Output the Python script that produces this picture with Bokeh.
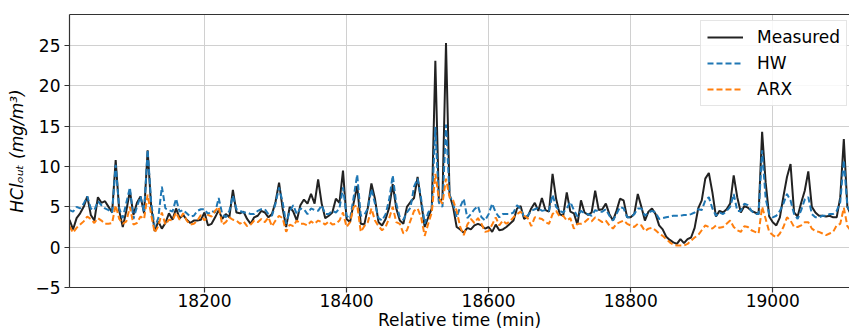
from bokeh.plotting import figure
from bokeh.models import Range1d, FixedTicker, LinearAxis, Legend, LegendItem
from bokeh.embed import file_html
from bokeh.resources import INLINE

# Time axis (minutes), one sample every 5 minutes
t_start = 18010
t_step = 5

measured = [
    3.4, 2.2, 3.6, 4.2, 5.0, 6.3, 4.0, 3.3, 6.2, 5.5, 5.7, 5.0, 4.3, 10.8, 4.5, 2.5, 4.5, 7.0, 4.0, 5.5,
    6.3, 4.2, 12.0, 5.0, 2.0, 3.2, 2.3, 3.0, 4.2, 3.4, 4.8, 3.6, 4.0, 3.4, 3.0, 3.3,
    3.3, 3.4, 4.3, 2.7, 2.9, 3.7, 4.6, 3.5, 4.1, 3.7, 7.1, 4.3, 4.2, 4.4, 3.5, 2.9, 3.7, 3.9, 4.5, 4.3,
    3.7, 4.1, 5.6, 8.0, 4.8, 2.5, 5.0, 4.4, 3.3, 5.2, 5.9, 5.4, 6.6, 5.4, 8.4, 5.4, 3.6,
    3.9, 4.3, 6.0, 5.5, 9.5, 3.5, 3.1, 5.5, 7.6, 2.9, 2.8, 4.9, 7.9, 6.0, 3.1, 2.7, 3.5, 4.9, 7.8, 4.8,
    3.3, 2.9, 5.0, 5.6, 6.1, 8.7, 5.6, 2.5, 3.7, 4.8, 23.1, 5.6, 6.0, 25.3, 6.5, 5.0,
    2.5, 2.2, 1.8, 2.4, 2.2, 2.7, 2.9, 2.7, 2.3, 2.5, 1.9, 2.8, 2.1, 2.2, 2.5, 2.9, 3.3, 4.8, 5.1, 3.5,
    3.8, 4.8, 5.5, 4.5, 6.1, 4.6, 4.4, 9.1, 6.0, 4.1, 3.9, 6.8, 4.4, 4.2, 2.8, 5.8, 4.3,
    4.0, 4.3, 7.0, 4.6, 4.7, 5.4, 4.1, 3.3, 4.5, 6.0, 5.8, 3.7, 3.7, 4.1, 6.6, 5.0, 3.3, 4.4, 4.8, 4.1,
    2.7, 2.2, 1.3, 0.9, 0.6, 0.4, 1.0, 0.5, 1.0, 1.2, 2.4, 4.8, 5.8, 8.5, 9.2, 6.8, 3.8,
    4.5, 4.3, 4.7, 5.4, 8.9, 6.2, 4.3, 5.1, 4.9, 4.5, 4.3, 4.1, 14.3, 8.0, 3.8, 3.1, 2.7, 3.7, 6.3, 8.7,
    10.3, 4.3, 3.8, 5.5, 7.0, 9.4, 5.0, 4.3, 3.9, 3.9, 3.8, 3.9, 3.7, 3.7, 6.2, 13.4, 5.0, 4.0,
]

hw = [
    4.6, 4.4, 5.0, 4.8, 5.4, 6.3, 4.8, 4.6, 5.7, 5.2, 4.8, 4.6, 4.3, 10.2, 4.8, 3.6, 5.5, 7.4, 3.5, 5.0,
    6.3, 4.3, 12.1, 5.5, 2.5, 3.6, 7.5, 4.8, 4.6, 4.4, 6.0, 4.4, 4.6, 4.2, 3.8, 3.9,
    4.5, 4.7, 4.7, 4.1, 4.5, 4.3, 6.1, 4.1, 3.7, 4.5, 6.4, 4.7, 4.5, 4.3, 4.3, 4.1, 4.1, 4.5, 4.7, 4.7,
    4.1, 3.9, 5.4, 7.4, 5.6, 2.9, 4.5, 5.2, 4.1, 4.8, 4.7, 4.1, 4.8, 4.6, 4.5, 5.2, 4.1,
    4.1, 4.5, 4.3, 4.8, 7.4, 3.9, 3.5, 6.2, 9.0, 3.9, 4.0, 4.8, 7.2, 5.4, 3.6, 3.3, 4.1, 5.9, 8.9, 5.4,
    3.7, 3.4, 4.3, 4.9, 7.5, 8.5, 6.0, 2.9, 4.3, 4.8, 14.9, 5.5, 5.0, 15.2, 6.5, 5.4,
    3.7, 5.0, 6.0, 3.6, 4.1, 4.7, 5.1, 3.7, 3.3, 4.1, 5.4, 4.3, 3.7, 4.1, 4.1, 4.1, 4.3, 5.2, 4.8, 3.7,
    3.9, 4.5, 4.7, 4.9, 4.5, 4.6, 4.5, 6.5, 5.0, 4.5, 4.3, 4.8, 5.6, 4.6, 3.8, 4.5, 4.2,
    4.1, 3.9, 4.6, 4.4, 4.4, 4.7, 3.9, 3.3, 4.1, 5.0, 4.8, 3.7, 3.7, 4.1, 4.8, 4.8, 3.9, 4.3, 4.5, 4.3,
    3.5, 3.6, 3.7, 3.8, 3.9, 3.9, 3.9, 4.0, 4.0, 4.1, 4.3, 4.7, 4.6, 5.8, 6.2, 4.8, 3.9,
    4.3, 4.1, 4.5, 5.0, 6.6, 4.5, 4.5, 5.4, 5.2, 4.5, 4.1, 4.1, 12.0, 6.0, 4.1, 3.7, 3.9, 4.5, 5.4, 6.6,
    5.8, 4.1, 3.5, 4.6, 5.9, 6.2, 4.1, 3.7, 3.7, 3.9, 3.9, 4.1, 4.1, 4.5, 5.6, 10.8, 5.0, 4.4,
]

arx = [
    2.6, 1.8, 2.4, 2.8, 3.2, 3.8, 3.5, 3.0, 3.6, 3.3, 2.9, 2.9, 3.0, 5.2, 3.5, 2.9, 3.2, 5.0, 2.8, 3.0,
    3.8, 3.5, 6.5, 4.0, 1.8, 2.6, 4.3, 2.8, 3.4, 3.3, 4.3, 3.4, 4.2, 3.3, 2.8, 2.9,
    3.3, 4.0, 3.3, 4.0, 3.8, 4.5, 5.0, 2.8, 3.1, 3.7, 3.4, 3.3, 2.9, 3.2, 2.6, 2.8, 3.3, 3.1, 3.5, 3.1,
    3.7, 2.6, 3.3, 3.9, 3.6, 1.9, 2.8, 2.6, 3.3, 2.9, 2.9, 2.7, 3.2, 2.9, 3.3, 3.1, 2.8,
    3.2, 2.8, 2.9, 3.3, 4.3, 2.5, 3.1, 5.0, 5.2, 1.9, 2.6, 3.1, 4.8, 3.3, 2.6, 2.1, 2.5, 3.6, 5.0, 3.1,
    2.9, 1.7, 2.1, 3.3, 4.5, 4.8, 3.7, 1.4, 2.9, 4.3, 9.1, 6.0, 5.4, 8.5, 6.2, 5.8,
    4.5, 2.5, 1.5, 2.8, 3.5, 3.0, 3.6, 2.9, 1.9, 2.0, 2.8, 3.7, 2.7, 3.3, 2.9, 3.2, 3.7, 4.1, 4.4, 3.9,
    3.6, 2.6, 3.7, 3.6, 3.5, 3.1, 2.9, 4.1, 4.5, 3.8, 3.9, 3.3, 3.6, 2.3, 2.9, 2.9, 3.1,
    3.5, 3.2, 3.7, 3.4, 3.1, 3.3, 2.7, 2.3, 2.9, 3.1, 3.3, 2.9, 2.7, 2.5, 2.9, 2.7, 2.0, 2.3, 2.4, 2.1,
    1.7, 1.4, 1.0, 0.6, 0.3, 0.2, 0.2, 0.2, 0.4, 0.8, 1.2, 1.5, 2.1, 2.7, 2.5, 2.3, 2.7,
    2.4, 2.5, 2.9, 3.3, 2.5, 2.1, 1.9, 2.6, 2.5, 2.1, 1.9, 1.7, 5.0, 3.5, 1.9, 1.5, 1.2, 1.7, 2.5, 3.7,
    3.3, 2.5, 2.5, 2.7, 3.1, 3.1, 2.3, 2.0, 1.9, 1.7, 1.5, 1.7, 1.9, 2.7, 2.9, 4.9, 2.6, 2.0,
]

x_ticks = [18200, 18400, 18600, 18800, 19000]
y_ticks = [-5, 0, 5, 10, 15, 20, 25]
series_names = ["Measured", "HW", "ARX"]

time = [t_start + t_step * i for i in range(len(measured))]

FONT = "DejaVu Sans"
SPINE = "#333333"

p = figure(width=849, height=333, output_backend="svg", toolbar_location=None,
           x_range=Range1d(18010, 19108), y_range=Range1d(-5, 28.85),
           min_border_left=69, min_border_right=0, min_border_top=14, min_border_bottom=46)
p.outline_line_color = None
p.background_fill_color = "white"

xax = p.below[0]
yax = p.left[0]

for ax in (xax, yax):
    ax.axis_line_color = SPINE
    ax.axis_line_width = 1.2
    ax.major_tick_line_color = SPINE
    ax.major_tick_line_width = 1.2
    ax.major_tick_out = 5
    ax.major_tick_in = 0
    ax.minor_tick_line_color = None
    ax.major_label_text_font = FONT
    ax.major_label_text_font_size = "17px"
    ax.major_label_text_color = "black"
    ax.axis_label_text_font = FONT
    ax.axis_label_text_font_size = "17px"
    ax.axis_label_text_color = "black"

xax.ticker = FixedTicker(ticks=x_ticks)
yax.ticker = FixedTicker(ticks=y_ticks)
yax.major_label_overrides = {-5: "\u22125"}
xax.major_label_standoff = 1
yax.major_label_standoff = 4
xax.axis_label = "Relative time (min)"
xax.axis_label_text_font_style = "normal"
xax.axis_label_standoff = 0
yax.axis_label = "HCl\u2092\u1d64\u209c (mg/m\u00b3)"
yax.axis_label_text_font_style = "italic"
yax.axis_label_standoff = 5

# top spine only (no ticks, no labels)
top = LinearAxis(ticker=FixedTicker(ticks=[]), major_label_text_font_size="0px",
                 major_tick_out=0, major_tick_in=0, minor_tick_out=0, minor_tick_in=0,
                 major_label_standoff=0, axis_line_color=SPINE, axis_line_width=1.2)
p.add_layout(top, "above")

p.xgrid.ticker = FixedTicker(ticks=x_ticks)
p.ygrid.ticker = FixedTicker(ticks=y_ticks)
for g in (p.xgrid[0], p.ygrid[0]):
    g.grid_line_color = "#d0d0d0"
    g.grid_line_width = 1

r1 = p.line(time, measured, line_color="#222222", line_width=2)
r2 = p.line(time, hw, line_color="#1f77b4", line_width=2, line_dash="6 3")
r3 = p.line(time, arx, line_color="#ff7f0e", line_width=2, line_dash="6 3")

legend = Legend(items=[LegendItem(label=series_names[0], renderers=[r1]),
                       LegendItem(label=series_names[1], renderers=[r2]),
                       LegendItem(label=series_names[2], renderers=[r3])],
                location=(631, 181), margin=0, padding=6, spacing=6,
                glyph_width=36, glyph_height=20, label_height=20, label_standoff=14,
                label_text_font=FONT, label_text_font_size="17px", label_text_color="black",
                border_line_color="#cccccc", border_line_width=1,
                background_fill_color="white", background_fill_alpha=0.85)
p.add_layout(legend)

open("out.html", "w").write(file_html(p, INLINE))
